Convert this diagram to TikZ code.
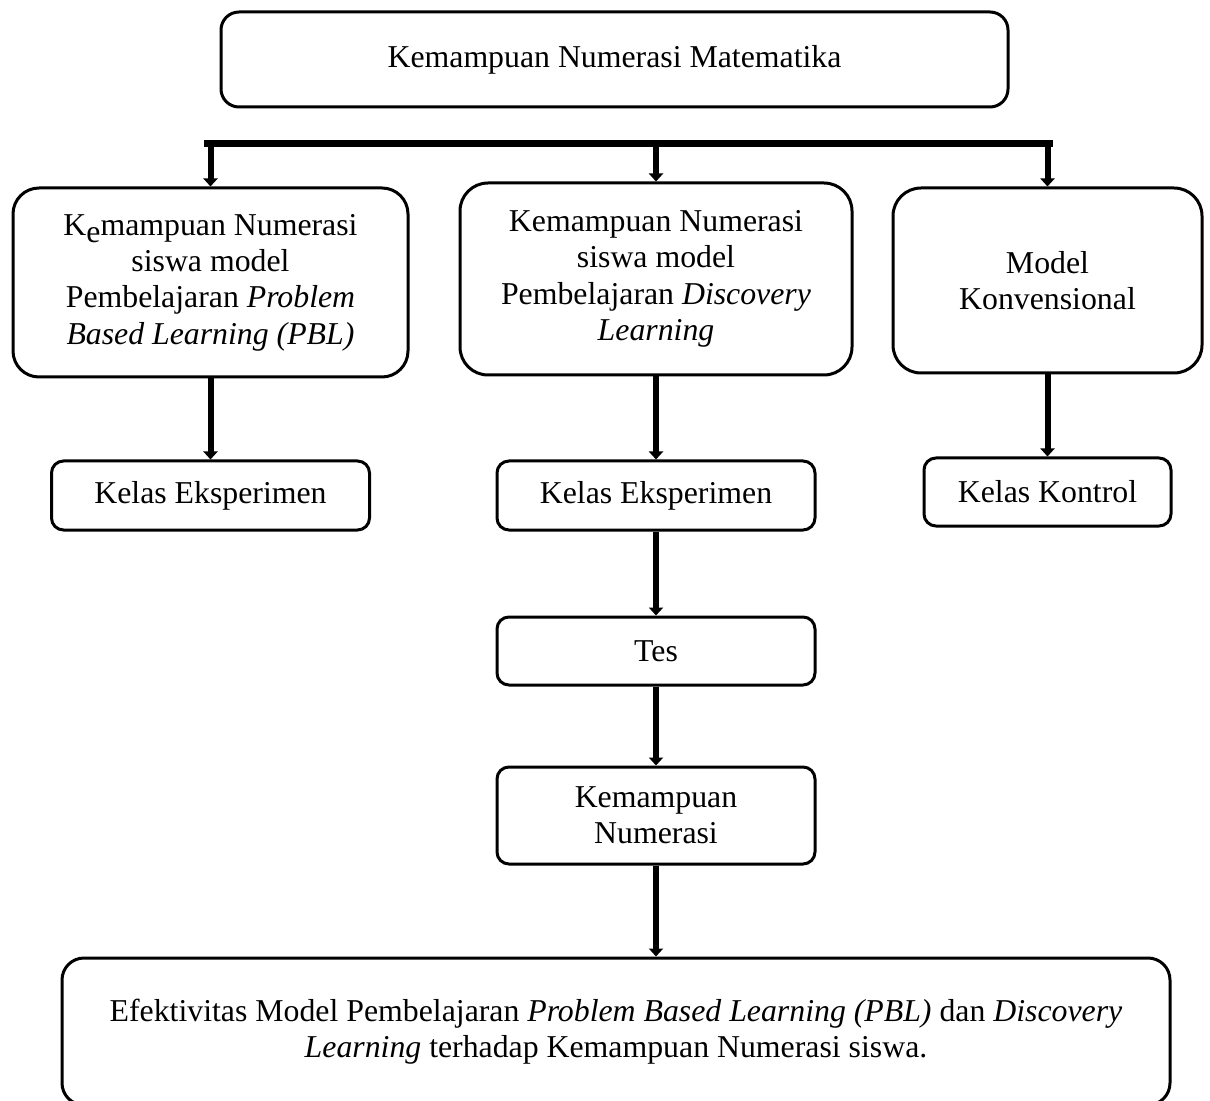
\documentclass[tikz,border=0pt]{standalone}
\usepackage{fontspec}
\setmainfont{Liberation Serif}
\usetikzlibrary{positioning, arrows.meta}
\tikzset{
    Box/.style = {
        draw, line width=1.5pt, rounded corners=#1,
        align=center, inner sep=0pt,
        font=\fontsize{15.9pt}{18.2pt}\selectfont
    },
    Box/.default={6pt},
    Arrow/.style = {
        line width=3pt,
        -{Triangle[width=7pt, length=4pt]}
    }
}

\begin{document}
\begin{tikzpicture}[x=0.5pt, y=-0.5pt]
    \clip (0,0) rectangle (1210,1101);
    \node [Box=9pt, minimum width=393.5pt, minimum height=47.5pt] (KNM) at (614.5,59.5) {Kemampuan Numerasi Matematika};
    \node [Box=13pt, minimum width=197.5pt, minimum height=94.5pt] (PBL) at (210.5,282.5) {K\raisebox{-3.5pt}{e}mampuan Numerasi\\siswa model\\Pembelajaran \textit{Problem}\\\textit{Based Learning (PBL)}};
    \node [Box=14pt, minimum width=196pt, minimum height=96pt] (DL) at (656,279) {Kemampuan Numerasi\\siswa model\\Pembelajaran \textit{Discovery}\\\textit{Learning}};
    \node [Box=14pt, minimum width=154.5pt, minimum height=92.5pt] (MK) at (1047.5,280.5) {Model\\Konvensional};
    \node [Box, minimum width=159pt, minimum height=34.5pt, below=40.5pt of PBL] (KE1) {Kelas Eksperimen};
    \node [Box, minimum width=159pt, minimum height=34.5pt, below=41.5pt of DL] (KE2) {Kelas Eksperimen};
    \node [Box, minimum width=123.5pt, minimum height=34pt, below=41pt of MK] (KK) {Kelas Kontrol};
    \node [Box, minimum width=159pt, minimum height=34pt, below=42pt of KE2] (Tes) {Tes};
    \node [Box, minimum width=159pt, minimum height=48.5pt, below=39.5pt of Tes] (KN) {Kemampuan\\Numerasi};
    \node [Box=11pt, minimum width=554pt, minimum height=73.5pt] (EF) at (616,1031.5) {Efektivitas Model Pembelajaran \textit{Problem Based Learning (PBL)} dan \textit{Discovery}\\\textit{Learning} terhadap Kemampuan Numerasi siswa.};
    \coordinate (barL) at (204,143.5);
    \coordinate (barR) at (1053,143.5);
    \draw [line width=3.5pt] (barL) -- (barR);
    \draw [Arrow] (PBL.north |- barL) -- (PBL.north);
    \draw [Arrow] (DL.north |- barL) -- (DL.north);
    \draw [Arrow] (MK.north |- barL) -- (MK.north);
    \draw [Arrow] (PBL.south) -- (KE1.north);
    \draw [Arrow] (DL.south) -- (KE2.north);
    \draw [Arrow] (MK.south) -- (KK.north);
    \draw [Arrow] (KE2.south) -- (Tes.north);
    \draw [Arrow] (Tes.south) -- (KN.north);
    \draw [Arrow] (KN.south) -- (KN.south |- EF.north);
\end{tikzpicture}
\end{document}
